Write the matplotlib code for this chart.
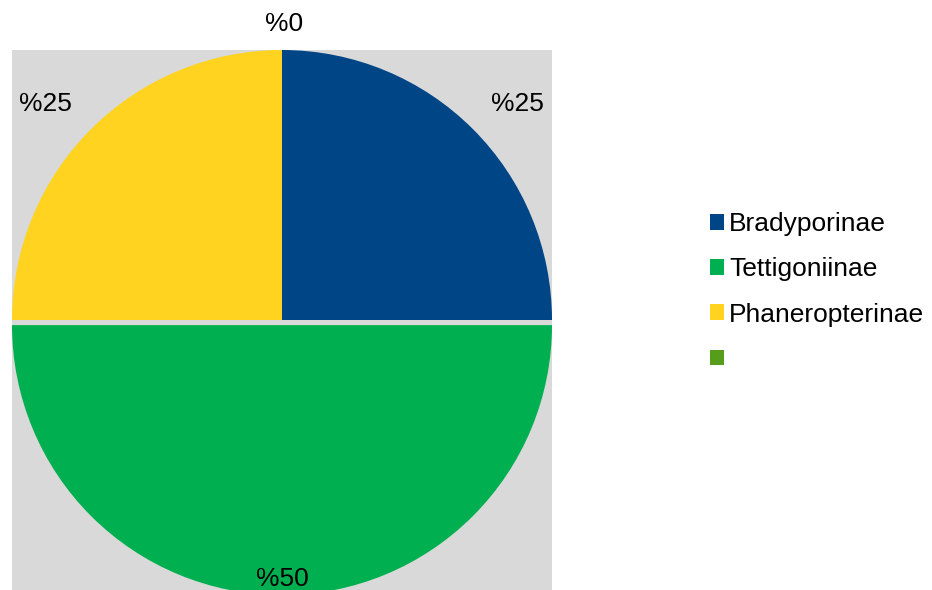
import matplotlib
matplotlib.use("Agg")
import matplotlib.pyplot as plt

plt.rcParams['font.family'] = ['Liberation Sans', 'DejaVu Sans']

# Data
categories = ["Bradyporinae", "Tettigoniinae", "Phaneropterinae", ""]
values = [25, 50, 25, 0]
pct_labels = ["%25", "%50", "%25", "%0"]

# Styles / layout
colors = ["#004586", "#00B050", "#FFD320", "#579D1C"]
explode = [0, 0.019, 0, 0]
# label anchor positions (data coords, baseline), per slice
label_pos = [(0.872, 0.774), (0.002, -0.985), (-0.876, 0.774), (0.006, 1.070)]

fig = plt.figure(figsize=(9.32, 5.90), dpi=100)
ax = fig.add_axes([12/932, 0, 540/932, 540/590])
ax.set_facecolor("#D9D9D9")

wedges, _ = ax.pie(values, colors=colors, startangle=90, counterclock=False,
                   explode=explode, radius=1.0, frame=True,
                   wedgeprops=dict(linewidth=0))
ax.set_xlim(-1, 1)
ax.set_ylim(-1, 1)
ax.set_aspect('auto')
ax.set_xticks([])
ax.set_yticks([])
for s in ax.spines.values():
    s.set_visible(False)

for lab, (x, y) in zip(pct_labels, label_pos):
    ax.text(x, y, lab, ha='center', va='baseline', fontsize=19, color='black', clip_on=False)

leg = fig.legend(wedges, categories, loc='center left', bbox_to_anchor=(710/932, 0.505),
                 frameon=False, fontsize=19, handlelength=0.53, handleheight=0.53,
                 handletextpad=0.2, labelspacing=0.80, borderpad=0, borderaxespad=0)

fig.savefig("out.png", dpi=100)
